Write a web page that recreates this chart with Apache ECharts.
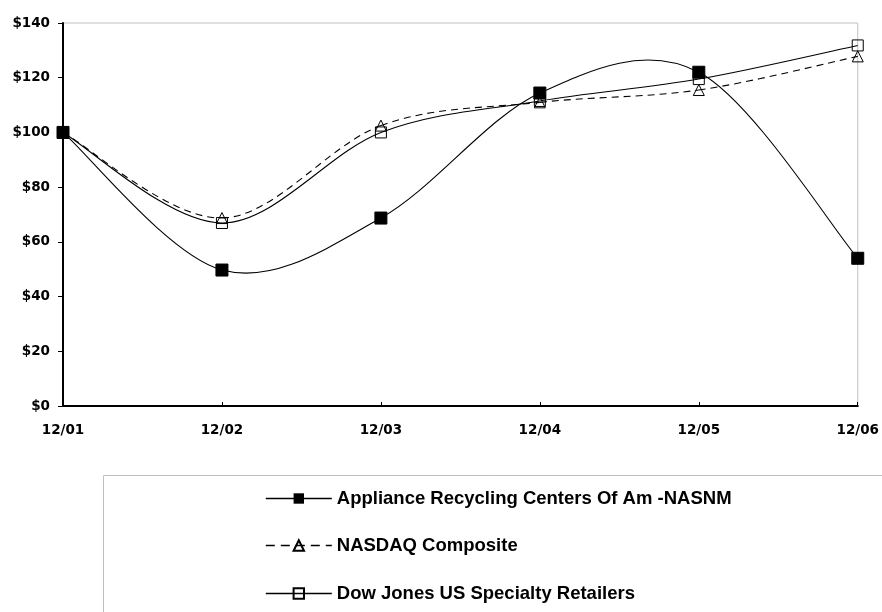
<!DOCTYPE html>
<html>
<head>
<meta charset="utf-8">
<script src="https://cdn.jsdelivr.net/npm/echarts@6/dist/echarts.min.js"></script>
<style>
  html, body { margin: 0; padding: 0; background: #fff; }
  #main { width: 882px; height: 612px; }
</style>
</head>
<body>
<div id="main"></div>
<script>
// categories (year-end dates)
const periods = ['12/01', '12/02', '12/03', '12/04', '12/05', '12/06'];

// cumulative value of $100 invested
const appliance = [100, 49.7, 68.7, 114.4, 122, 54];
const nasdaq = [100, 68.7, 102.5, 111, 115.5, 127.8];
const dowJones = [100, 66.9, 100, 111.5, 119.5, 131.8];

const seriesNames = [
    'Appliance Recycling Centers Of Am -NASNM',
    'NASDAQ Composite',
    'Dow Jones US Specialty Retailers'
];

const axisFont = { fontFamily: 'DejaVu Sans', fontWeight: 'bold', fontSize: 13.5, color: '#000' };
const legendFont = { fontFamily: 'Liberation Sans', fontWeight: 'bold', fontSize: 18.5, color: '#000' };
const dash = [7, 5];

// one legend per row so rows sit at fixed positions
const legendTops = [489, 536, 584];
const legendDash = ['solid', [9, 6], 'solid'];
const legends = seriesNames.map((name, i) => ({
    orient: 'vertical', left: 265, top: legendTops[i], padding: 0,
    itemWidth: 66, itemHeight: 13,
    textStyle: legendFont,
    lineStyle: { color: '#000', width: 1.6, type: legendDash[i] },
    data: [name]
}));

// Excel-like smoothed line (Catmull-Rom as bezier), one segment per point
function curve(values, lineDash) {
    const n = values.length;
    return {
        type: 'custom', silent: true, z: 1,
        data: values.map((v, i) => [i, v]),
        renderItem: (params, api) => {
            const i = params.dataIndex;
            if (i === 0) return null;
            const p = (k) => {
                k = Math.max(0, Math.min(n - 1, k));
                return api.coord([k, values[k]]);
            };
            const a = p(i - 2), b = p(i - 1), c = p(i), d = p(i + 1);
            return {
                type: 'bezierCurve',
                shape: {
                    x1: b[0], y1: b[1], x2: c[0], y2: c[1],
                    cpx1: b[0] + (c[0] - a[0]) / 6, cpy1: b[1] + (c[1] - a[1]) / 6,
                    cpx2: c[0] - (d[0] - b[0]) / 6, cpy2: c[1] - (d[1] - b[1]) / 6
                },
                style: { stroke: '#000', fill: null, lineWidth: 1.1, lineDash: lineDash }
            };
        }
    };
}

const option = {
    animation: false,
    backgroundColor: '#fff',
    grid: {
        left: 63, right: 21, top: 23, bottom: 206,
        show: true, borderColor: '#c0c0c0', borderWidth: 1
    },
    graphic: [{
        type: 'rect',
        shape: { x: 103.5, y: 475.5, width: 820, height: 200 },
        style: { fill: 'none', stroke: '#c0c0c0', lineWidth: 1 }
    }],
    legend: legends,
    xAxis: {
        type: 'category', data: periods, boundaryGap: false,
        axisLine: { lineStyle: { color: '#000', width: 2 } },
        axisTick: { inside: true, length: 4, lineStyle: { color: '#000' } },
        axisLabel: Object.assign({ margin: 17, interval: 0 }, axisFont),
        splitLine: { show: false }
    },
    yAxis: {
        type: 'value', min: 0, max: 140, interval: 20,
        axisLine: { show: true, lineStyle: { color: '#000', width: 2 } },
        axisTick: { show: true, length: 5, lineStyle: { color: '#000' } },
        axisLabel: Object.assign({ margin: 13, formatter: (v) => '$' + v }, axisFont),
        splitLine: { show: false }
    },
    series: [
        curve(dowJones, null),
        curve(nasdaq, dash),
        curve(appliance, null),
        {
            name: seriesNames[2], type: 'line', data: dowJones, z: 3,
            symbol: 'rect', symbolSize: 11,
            itemStyle: { color: 'rgba(255,255,255,0)', borderColor: '#000', borderWidth: 1 },
            lineStyle: { color: '#000', width: 0 }
        },
        {
            name: seriesNames[1], type: 'line', data: nasdaq, z: 3,
            symbol: 'triangle', symbolSize: 11,
            itemStyle: { color: 'rgba(255,255,255,0)', borderColor: '#000', borderWidth: 1 },
            lineStyle: { color: '#000', width: 0 }
        },
        {
            name: seriesNames[0], type: 'line', data: appliance, z: 3,
            symbol: 'rect', symbolSize: 12,
            itemStyle: { color: '#000', borderColor: '#000' },
            lineStyle: { color: '#000', width: 0 }
        }
    ]
};

echarts.init(document.getElementById('main')).setOption(option);
</script>
</body>
</html>
